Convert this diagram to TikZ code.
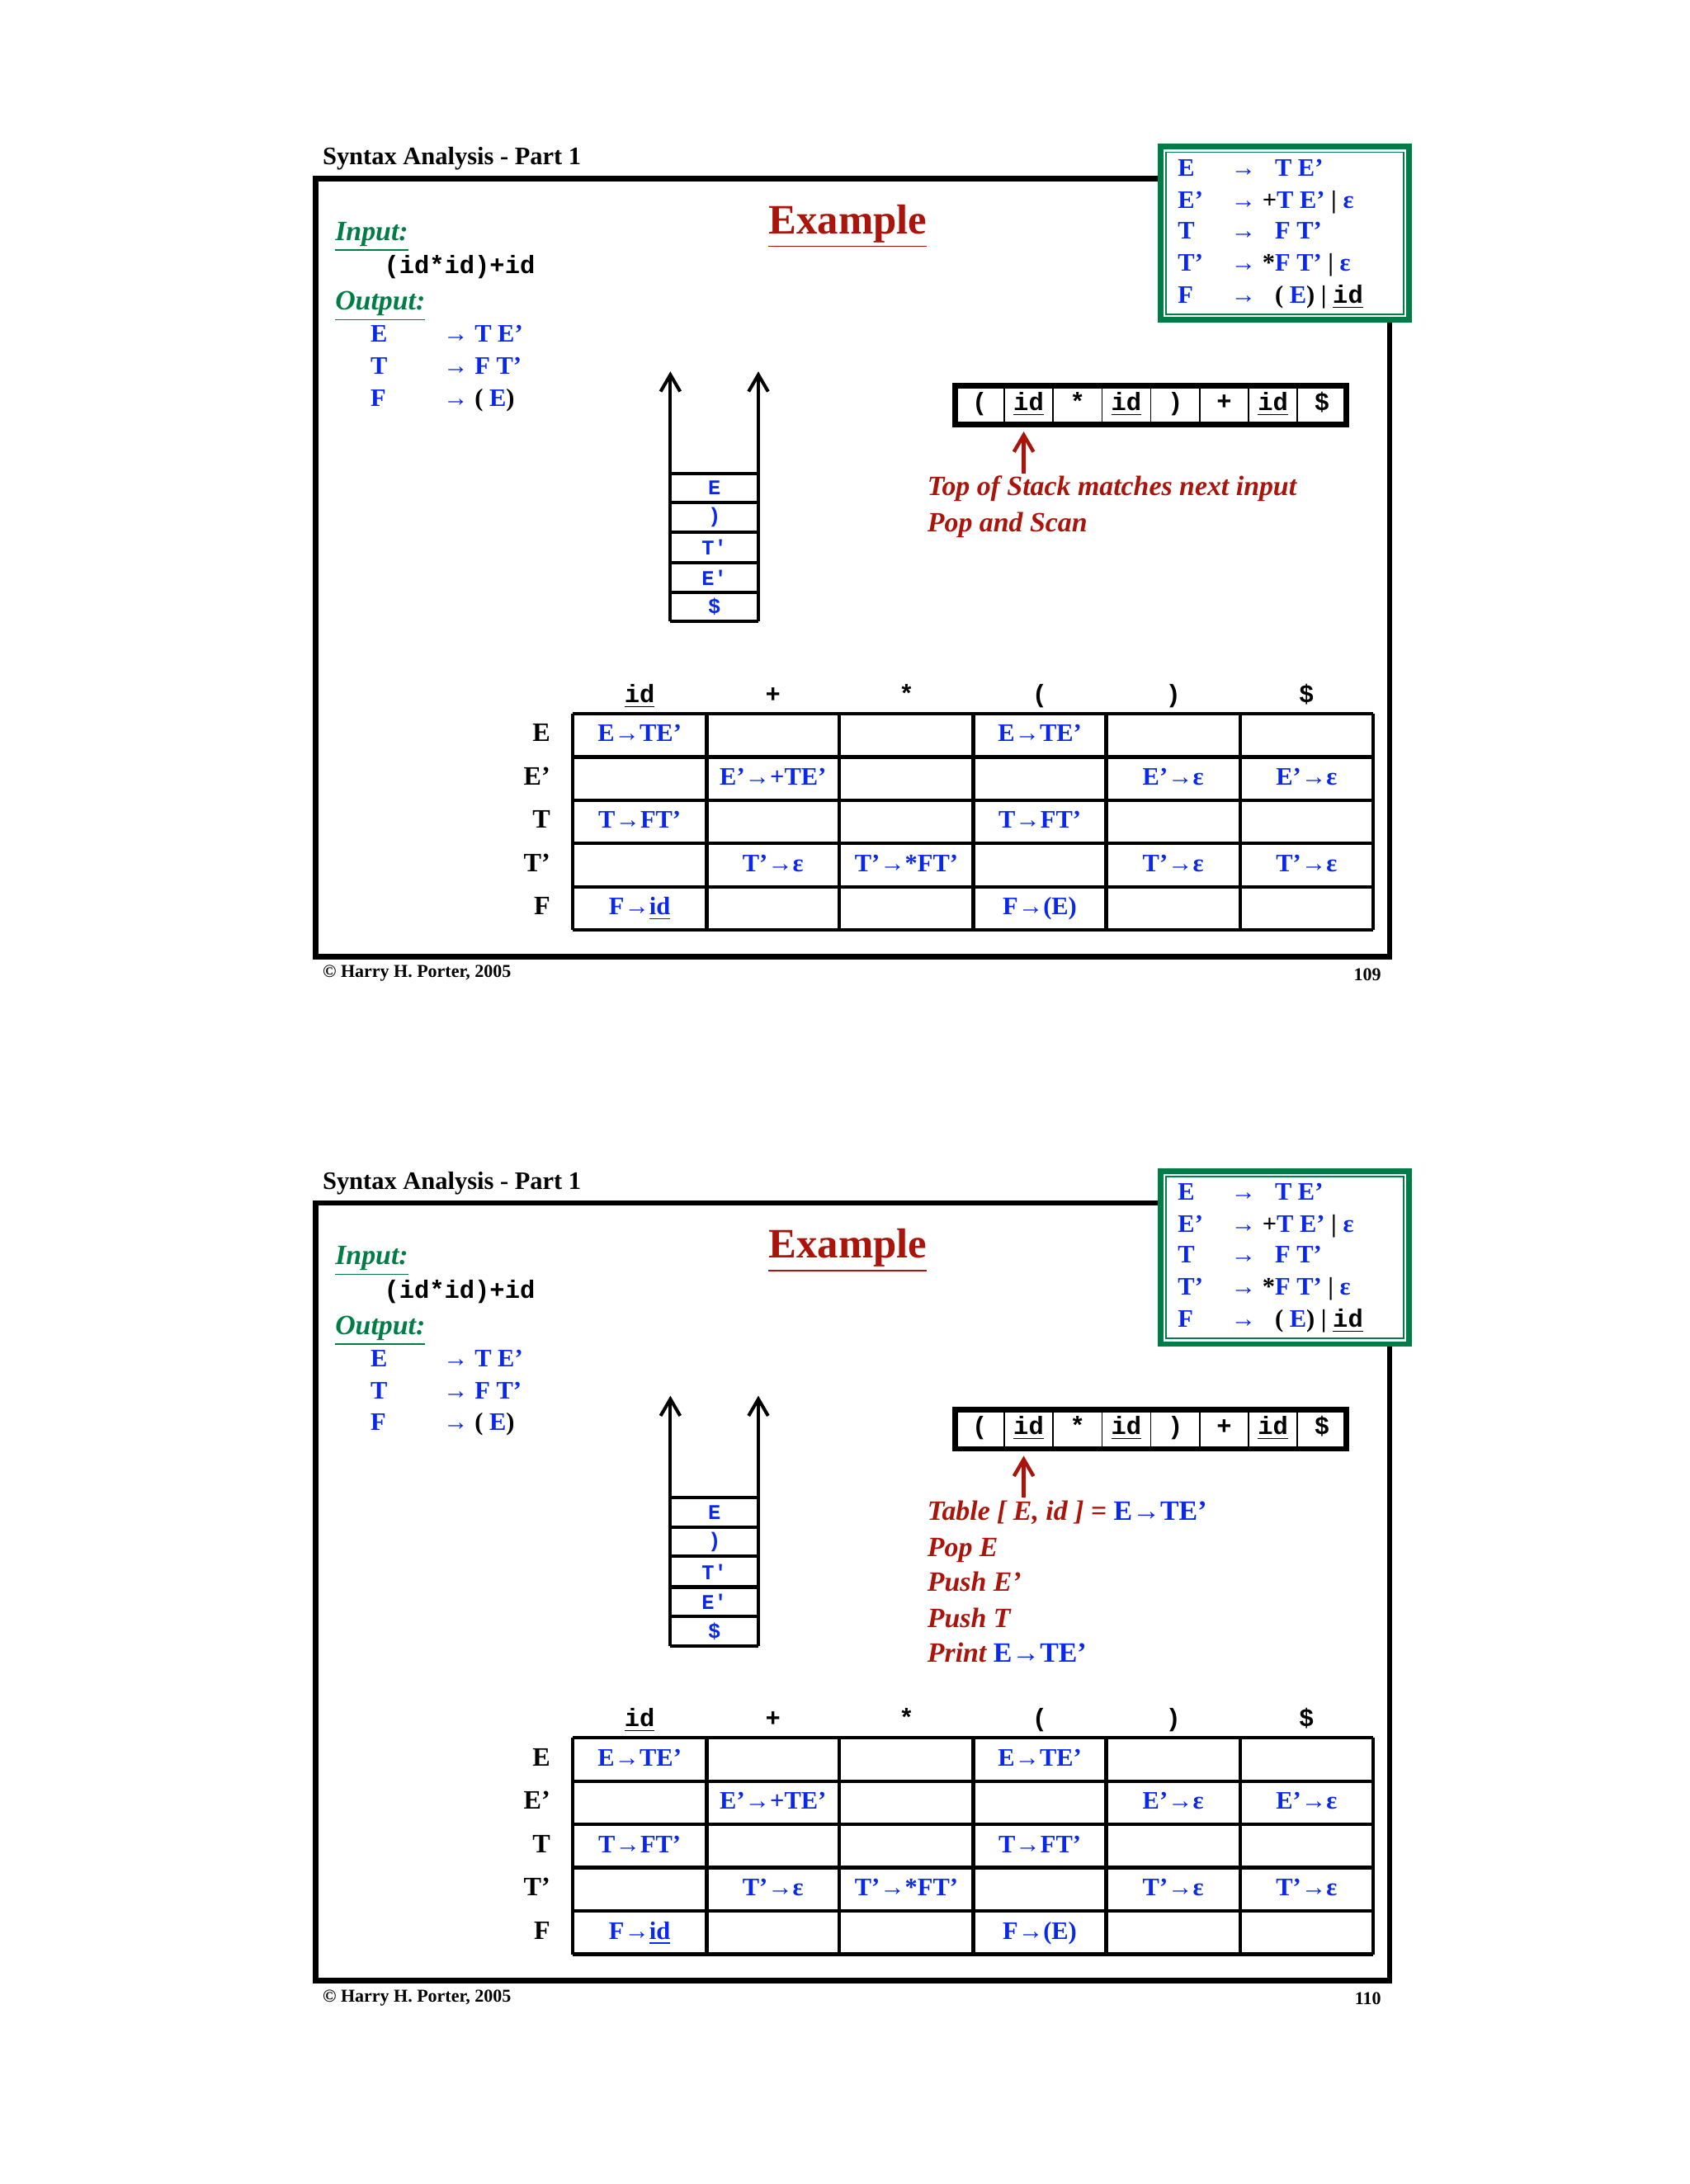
\documentclass[tikz,border=0pt]{standalone}
\usepackage{fontspec}
\setmainfont{Liberation Serif}
\setmonofont{Liberation Mono}
\usetikzlibrary{arrows.meta}
\definecolor{cblue}{RGB}{10,40,235}
\definecolor{cred}{RGB}{170,20,10}
\definecolor{cgreen}{RGB}{0,125,70}
\newcommand\fs[1]{\fontsize{#1}{#1}\selectfont}
\newcommand\uid{\underline{id}}
\newcommand\slidebody[2]{%
 \node[anchor=base west,font=\fs{9}\bfseries] (title) at (224,118) {Syntax Analysis - Part 1};
 \draw[line width=2pt] (226,128) rectangle (995,685);
 \draw[line width=2pt,draw=cgreen,fill=white] (831,105) rectangle (1009,229);
 \draw[line width=0.5pt,draw=cgreen] (835,109) rectangle (1005,225);
 \foreach \yy/\l/\r in {121/E/{\ \ T E'},144/E'/{\textcolor{black}{+}T E' {\textcolor{black}{|}} ε},166/T/{\ \ F T'},189/T'/{\textcolor{black}{*}F T' {\textcolor{black}{|}} ε},212/F/{\ \ \textcolor{black}{( }E\textcolor{black}{ ) | \texttt{\uid}}}}
   \node[gram,anchor=base west] at (843,\yy+5) {\makebox[19pt][l]{\l}→ \r};
 \node[font=\fs{15}\bfseries,text=cred] (ex) at (607,162) {\underline{Example}};
 \node[font=\fs{10}\bfseries\itshape,text=cgreen,anchor=base west] (in) at (233,172) {\underline{Input:}};
 \node[font=\fs{9}\ttfamily\bfseries,anchor=base west] (instr) at (268,196) {(id*id)+id};
 \node[font=\fs{10}\bfseries\itshape,text=cgreen,anchor=base west] (out) at (233,222) {\underline{Output:}};
 \foreach \yy/\l/\r in {245/E/{T E'},268/T/{F T'},291/F/{\textcolor{black}{( }E\textcolor{black}{ )}}}{
   \node[gram,anchor=base west] at (265,\yy) {\l};
   \node[gram,anchor=base west] at (317,\yy) {→ \r};}
 % stack
 \coordinate (sl) at (480,445); \coordinate (sr) at (543,445);
 \coordinate (slt) at (480,266); \coordinate (srt) at (543,266);
 \draw[line width=1.2pt,-{Straight Barb[length=6pt,width=7pt]}] (sl) -- (slt);
 \draw[line width=1.2pt,-{Straight Barb[length=6pt,width=7pt]}] (sr) -- (srt);
 \draw[line width=1.2pt] (sl) -- (sr);
 \foreach \yy in {339,360,381,403,424} \draw[line width=1.2pt] (480,\yy) -- (543,\yy);
 \foreach \yy/\t in {349.5/E,370.5/),392/T',413.5/E',434.5/\$}
   \node[font=\fs{7.5}\ttfamily\bfseries,text=cblue] at (511.5,\yy) {\t};
 % tape
 \draw[line width=2pt] (684,276) rectangle (964,304);
 \foreach \xx in {719,754,789,824,859,894,929} \draw[line width=0.5pt] (\xx,278) -- (\xx,302);
 \foreach \i/\t in {0/(,1/\uid,2/*,3/\uid,4/),5/+,6/\uid,7/\$}
   \node[font=\fs{9}\ttfamily\bfseries] at (701.5+35*\i,290) {\strut\t};
 \coordinate (abot) at (733,339); \coordinate (atop) at (733,309);
 \draw[cred,line width=1.3pt,-{Straight Barb[length=6pt,width=7pt]}] (abot) -- (atop);
 #2
 % table
 \foreach \i/\t in {0/\uid,1/+,2/*,3/(,4/),5/\$}
   \node[font=\fs{9}\ttfamily\bfseries,anchor=base] at (458+95.5*\i,503) {\t};
 \foreach \yy/\t in {526/E,557/E',588/T,619/T',650/F}
   \node[font=\fs{9.5}\bfseries,anchor=base east] at (401,\yy+5) {\t};
 \foreach \xx in {410,506,601,697,792,888,983} \draw[line width=1.3pt] (\xx,511) -- (\xx,666);
 \foreach \yy in {511,542,573,604,635,666} \draw[line width=1.3pt] (410,\yy) -- (983,\yy);
 \foreach \c/\r/\t in {0/0/E→TE',3/0/E→TE',1/1/E'→+TE',4/1/E'→ε,5/1/E'→ε,0/2/T→FT',3/2/T→FT',1/3/T'→ε,2/3/T'→*FT',4/3/T'→ε,5/3/T'→ε,0/4/F→\underline{id},3/4/F→(E)}
   \node[gram,anchor=base] at (458+95.5*\c,531+31*\r) {\t};
 \node[font=\fs{6.5}\bfseries,anchor=base west] (cp) at (224,700) {© Harry H. Porter, 2005};
 \node[font=\fs{6.5}\bfseries,anchor=base east] (pg) at (996,702) {#1};
}
\begin{document}
\begin{tikzpicture}[x=0.5pt,y=-0.5pt,gram/.style={font=\fs{9}\bfseries,text=cblue,inner sep=0pt}]
\useasboundingbox[fill=white] (0,0) rectangle (1210,1564);
\begin{scope}[name prefix=a-]
\slidebody{109}{%
 \node[font=\fs{10}\bfseries\itshape,text=cred,anchor=base west] (n1) at (657,355) {Top of Stack matches next input};
 \node[font=\fs{10}\bfseries\itshape,text=cred,anchor=base west] (n2) at (657,381) {Pop and Scan};}
\end{scope}
\begin{scope}[name prefix=b-,shift={(0,733.5)}]
\slidebody{110}{%
 \foreach \yy/\t in {355/{Table [ E, id ] = \textcolor{cblue}{\upshape E→TE'}},381/Pop E,406/Push E',432/Push T,457/{Print \textcolor{cblue}{\upshape E→TE'}}}
 \node[font=\fs{10}\bfseries\itshape,text=cred,anchor=base west] at (657,\yy) {\t};}
\end{scope}
\end{tikzpicture}
\end{document}
